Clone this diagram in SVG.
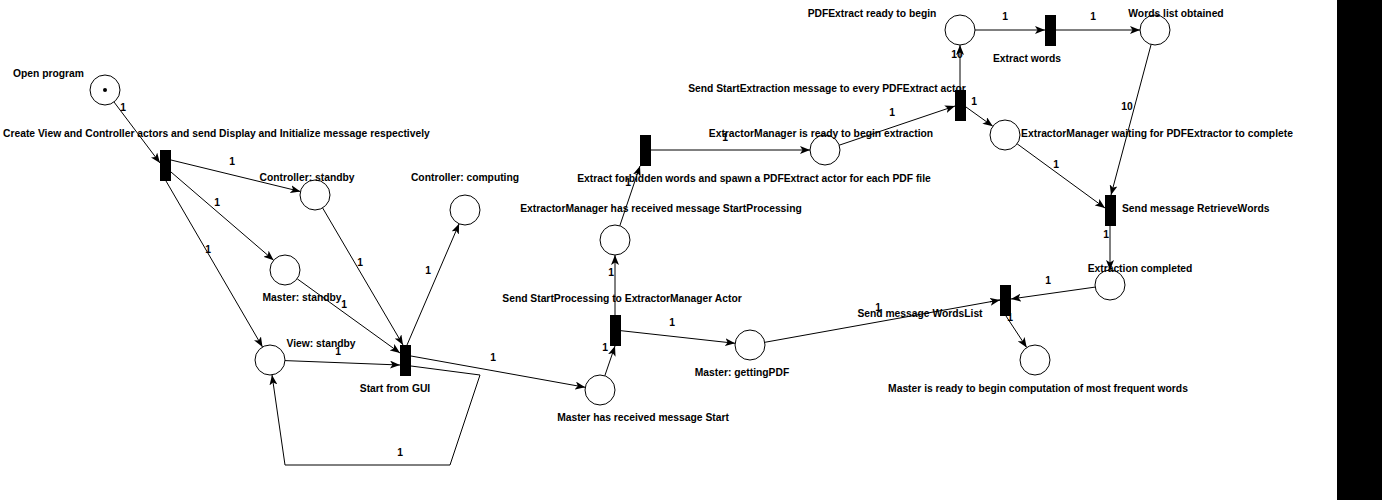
<svg xmlns="http://www.w3.org/2000/svg" width="1382" height="500" viewBox="0 0 1382 500">
<style>
text{font-family:"Liberation Sans",Arial,sans-serif;font-size:10.3px;font-weight:bold;fill:#000}
.p{fill:#fff;stroke:#000;stroke-width:1}
.t{fill:#000;stroke:none}
.a{fill:none;stroke:#000;stroke-width:1;marker-end:url(#arr)}
.l{fill:none;stroke:#000;stroke-width:1}
.m{text-anchor:middle}
</style>
<defs>
<marker id="arr" markerUnits="userSpaceOnUse" markerWidth="10" markerHeight="8" refX="10" refY="4" orient="auto">
<path d="M0,0 L10,4 L0,8 L2.5,4 Z" fill="#000"/>
</marker>
</defs>
<rect x="0" y="0" width="1382" height="500" fill="#fff"/>
<rect x="1337" y="0" width="45" height="500" fill="#000"/>

<g id="connectors">
<line class="a" x1="114" y1="102" x2="160" y2="163"/>
<line class="a" x1="171" y1="160" x2="300.4" y2="191.5"/>
<line class="a" x1="171" y1="172" x2="273.6" y2="260.2"/>
<line class="a" x1="166" y1="181" x2="262.5" y2="347"/>
<line class="a" x1="322.6" y1="207.9" x2="403" y2="345"/>
<line class="a" x1="297.2" y1="278.8" x2="400" y2="353"/>
<line class="a" x1="285" y1="360.6" x2="400" y2="365"/>
<line class="a" x1="407" y1="345" x2="459.1" y2="223.8"/>
<line class="a" x1="411" y1="356" x2="585.2" y2="387.3"/>
<polyline class="a" points="411,366 480,375 450,465 285,465 272,375"/>
<line class="a" x1="604.8" y1="375.8" x2="615" y2="346"/>
<line class="a" x1="615" y1="315" x2="615" y2="255"/>
<line class="a" x1="621" y1="330.7" x2="735.1" y2="343.3"/>
<line class="l" x1="764.8" y1="342.3" x2="1000" y2="300"/>
<path class="a" d="M990,301.8 L1000,300"/>
<line class="a" x1="619.8" y1="225.8" x2="640" y2="166"/>
<line class="a" x1="651" y1="150" x2="810" y2="150"/>
<line class="a" x1="839.2" y1="145.2" x2="955" y2="106"/>
<line class="a" x1="960" y1="90" x2="960" y2="45"/>
<line class="a" x1="966" y1="107" x2="992.8" y2="126.25"/>
<line class="a" x1="975" y1="30" x2="1045" y2="30"/>
<line class="a" x1="1056" y1="30" x2="1140" y2="30"/>
<line class="a" x1="1151.1" y1="44.5" x2="1111" y2="195"/>
<line class="a" x1="1017.1" y1="143.8" x2="1105" y2="208"/>
<line class="a" x1="1110" y1="226" x2="1110" y2="270"/>
<line class="a" x1="1095.1" y1="287.1" x2="1011" y2="299"/>
<line class="a" x1="1006" y1="316" x2="1026.7" y2="347.5"/>
</g>

<g id="arc-labels">
<text class="m" x="123" y="111">1</text>
<text class="m" x="232" y="165">1</text>
<text class="m" x="217" y="206">1</text>
<text class="m" x="208" y="253">1</text>
<text class="m" x="360" y="266">1</text>
<text class="m" x="344" y="308">1</text>
<text class="m" x="338" y="355">1</text>
<text class="m" x="428" y="274">1</text>
<text class="m" x="493" y="361">1</text>
<text class="m" x="400" y="456">1</text>
<text class="m" x="605" y="351">1</text>
<text class="m" x="611" y="276">1</text>
<text class="m" x="672" y="326">1</text>
<text class="m" x="878" y="311">1</text>
<text class="m" x="628" y="186">1</text>
<text class="m" x="725" y="141">1</text>
<text class="m" x="892" y="116">1</text>
<text class="m" x="957" y="58">10</text>
<text class="m" x="974" y="105">1</text>
<text class="m" x="1005" y="20">1</text>
<text class="m" x="1093" y="20">1</text>
<text class="m" x="1127" y="110">10</text>
<text class="m" x="1056" y="168">1</text>
<text class="m" x="1106" y="238">1</text>
<text class="m" x="1048" y="284">1</text>
<text class="m" x="1010" y="321">1</text>
</g>

<g id="p-open-program">
<circle class="p" cx="105" cy="90" r="15"/>
<circle cx="105" cy="90" r="2" fill="#000"/>
<text x="13" y="77">Open program</text>
</g>
<g id="t-create">
<rect class="t" x="160" y="150" width="11" height="31"/>
<text x="3" y="137">Create View and Controller actors and send Display and Initialize message respectively</text>
</g>
<g id="p-controller-standby">
<circle class="p" cx="315" cy="195" r="15"/>
<text class="m" x="307" y="181">Controller: standby</text>
</g>
<g id="p-controller-computing">
<circle class="p" cx="465" cy="210" r="15"/>
<text class="m" x="465" y="181">Controller: computing</text>
</g>
<g id="p-master-standby">
<circle class="p" cx="285" cy="270" r="15"/>
<text class="m" x="302" y="301">Master: standby</text>
</g>
<g id="p-view-standby">
<circle class="p" cx="270" cy="360" r="15"/>
<text class="m" x="321" y="347">View: standby</text>
</g>
<g id="t-start-gui">
<rect class="t" x="400" y="345" width="11" height="31"/>
<text class="m" x="395" y="392">Start from GUI</text>
</g>
<g id="p-master-received-start">
<circle class="p" cx="600" cy="390" r="15"/>
<text class="m" x="643" y="421">Master has received message Start</text>
</g>
<g id="t-send-startprocessing">
<rect class="t" x="610" y="315" width="11" height="31"/>
<text class="m" x="622" y="302">Send StartProcessing to ExtractorManager Actor</text>
</g>
<g id="p-master-gettingpdf">
<circle class="p" cx="750" cy="345" r="15"/>
<text class="m" x="742" y="376">Master: gettingPDF</text>
</g>
<g id="p-em-received">
<circle class="p" cx="615" cy="240" r="15"/>
<text class="m" x="661" y="212">ExtractorManager has received message StartProcessing</text>
</g>
<g id="t-extract-forbidden">
<rect class="t" x="640" y="135" width="11" height="31"/>
<text class="m" x="754" y="182">Extract forbidden words and spawn a PDFExtract actor for each PDF file</text>
</g>
<g id="p-em-ready">
<circle class="p" cx="825" cy="150" r="15"/>
<text class="m" x="821" y="137">ExtractorManager is ready to begin extraction</text>
</g>
<g id="t-send-startextraction">
<rect class="t" x="955" y="90" width="11" height="31"/>
<text class="m" x="827" y="92">Send StartExtraction message to every PDFExtract actor</text>
</g>
<g id="p-pdfextract-ready">
<circle class="p" cx="960" cy="30" r="15"/>
<text class="m" x="872" y="17">PDFExtract ready to begin</text>
</g>
<g id="t-extract-words">
<rect class="t" x="1045" y="15" width="11" height="31"/>
<text class="m" x="1027" y="62">Extract words</text>
</g>
<g id="p-words-list">
<circle class="p" cx="1155" cy="30" r="15"/>
<text class="m" x="1176" y="17">Words list obtained</text>
</g>
<g id="p-em-waiting">
<circle class="p" cx="1005" cy="135" r="15"/>
<text class="m" x="1157" y="137">ExtractorManager waiting for PDFExtractor to complete</text>
</g>
<g id="t-retrievewords">
<rect class="t" x="1105" y="195" width="11" height="31"/>
<text x="1122" y="212">Send message RetrieveWords</text>
</g>
<g id="p-extraction-completed">
<circle class="p" cx="1110" cy="285" r="15"/>
<text class="m" x="1140" y="272">Extraction completed</text>
</g>
<g id="t-wordslist">
<rect class="t" x="1000" y="285" width="11" height="31"/>
<text class="m" x="920" y="317">Send message WordsList</text>
</g>
<g id="p-master-ready">
<circle class="p" cx="1035" cy="360" r="15"/>
<text class="m" x="1038" y="392">Master is ready to begin computation of most frequent words</text>
</g>
</svg>
